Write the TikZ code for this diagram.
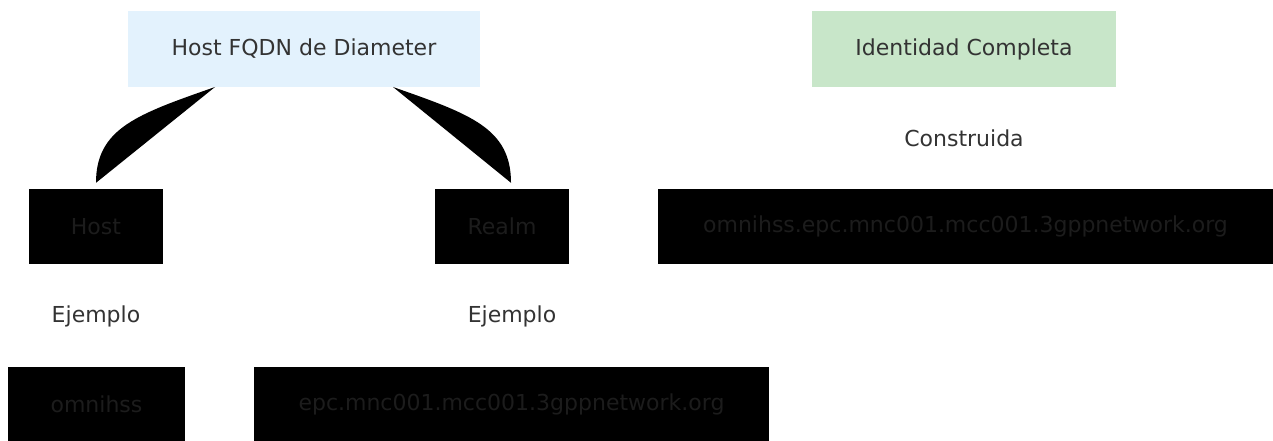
\documentclass[tikz,border=0pt]{standalone}
\usepackage{fontspec}
\setmainfont{DejaVu Sans}
\definecolor{bluebg}{HTML}{E3F2FD}
\definecolor{greenbg}{HTML}{C8E6C9}
\definecolor{txt}{HTML}{333333}
\definecolor{dimtxt}{HTML}{1C1C1C}

\begin{document}
\begin{tikzpicture}[x=1pt,y=-1pt,
  every node/.style={font=\fontsize{22}{26}\selectfont,inner sep=0pt,text=txt},
  head/.style={minimum height=76pt},
  blk/.style={fill=black,text=dimtxt,minimum height=75pt}]
  \useasboundingbox (0,0) rectangle (1273,441);
  % top row
  \node[head,fill=bluebg,minimum width=352pt]  (fqdn)  at (304,49)  {Host FQDN de Diameter};
  \node[head,fill=greenbg,minimum width=304pt] (ident) at (964,49)  {Identidad Completa};
  \node (built) at (964,138) {Construida};
  % parts
  \node[blk,minimum width=134pt] (host)  at (96,226.5)    {Host};
  \node[blk,minimum width=134pt] (realm) at (502,226.5)   {Realm};
  \node[blk,minimum width=615pt] (full)  at (965.5,226.5) {omnihss.epc.mnc001.mcc001.3gppnetwork.org};
  \node (ej1) at (96,316)  {Ejemplo};
  \node (ej2) at (512,316) {Ejemplo};
  \node[blk,minimum width=177pt,minimum height=74pt] (exhost)  at (96.5,404)  {omnihss};
  \node[blk,minimum width=515pt,minimum height=74pt] (exrealm) at (511.5,404) {epc.mnc001.mcc001.3gppnetwork.org};
  % filled edges
  \coordinate (fl) at (215,87);
  \coordinate (fr) at (393,87);
  \fill (fl) .. controls (138,114) and (96,128) .. ([yshift=6pt]host.north) -- cycle;
  \fill (fr) .. controls (470,114) and (511,128) .. ([yshift=6pt,xshift=9pt]realm.north) -- cycle;
\end{tikzpicture}
\end{document}
